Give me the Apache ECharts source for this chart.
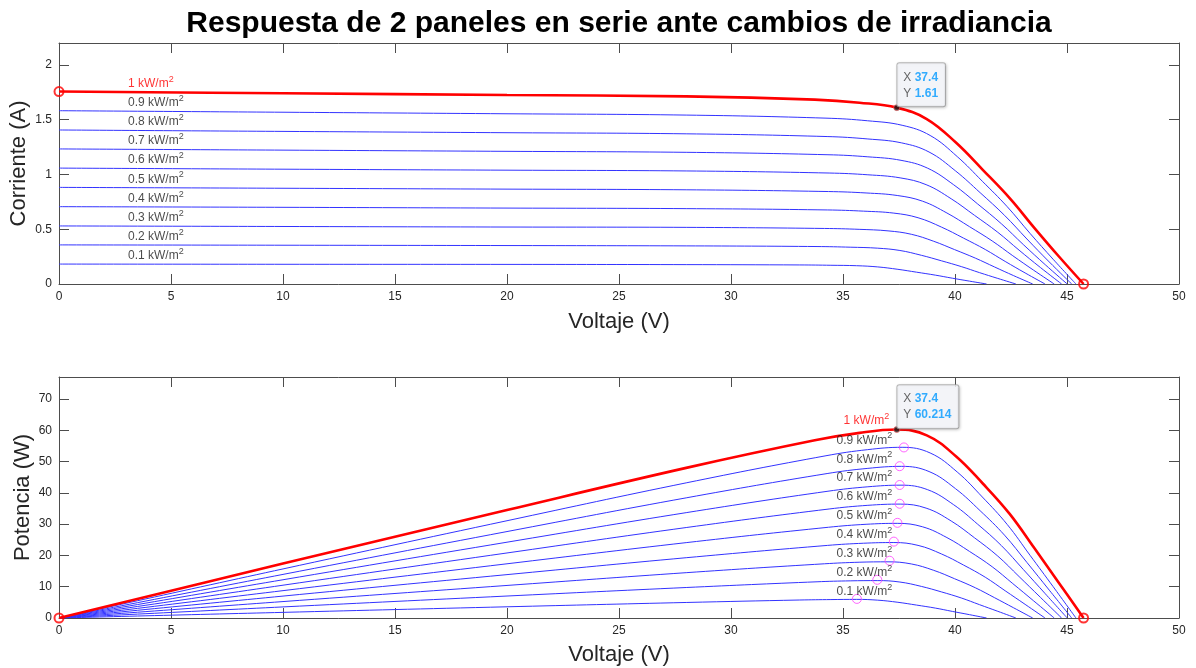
<!DOCTYPE html>
<html>
<head>
<meta charset="utf-8">
<title>Respuesta de 2 paneles en serie</title>
<script src="https://cdn.jsdelivr.net/npm/echarts@6.0.0/dist/echarts.min.js"></script>
<style>
  html, body { margin: 0; padding: 0; background: #fff; }
  #chart { width: 1196px; height: 668px; }
</style>
</head>
<body>
<div id="chart"></div>
<script>
// Irradiancias en kW/m2 (la primera es la curva roja)
var irradiancias = ['1', '0.9', '0.8', '0.7', '0.6', '0.5', '0.4', '0.3', '0.2', '0.1'];

// Voltaje (V) de cada curva
var voltaje = [
  [0, 10, 20, 28, 33.74, 35.74, 37.40, 38.74, 40.04, 41.24, 42.44, 43.54, 44.64, 45.74],
  [0, 10, 20, 28, 34.24, 36.10, 37.64, 38.89, 40.10, 41.22, 42.33, 43.35, 44.38, 45.40],
  [0, 10, 20, 28, 34.29, 36.11, 37.62, 38.84, 40.02, 41.12, 42.21, 43.21, 44.21, 45.21],
  [0, 10, 20, 28, 34.33, 36.11, 37.59, 38.78, 39.94, 41.01, 42.07, 43.05, 44.03, 45.01],
  [0, 10, 20, 28, 34.38, 36.11, 37.55, 38.71, 39.83, 40.87, 41.91, 42.86, 43.81, 44.76],
  [0, 10, 20, 28, 34.35, 36.03, 37.42, 38.55, 39.64, 40.65, 41.66, 42.58, 43.51, 44.43],
  [0, 10, 20, 28, 34.30, 35.92, 37.27, 38.35, 39.40, 40.38, 41.35, 42.24, 43.13, 44.02],
  [0, 10, 20, 28, 34.17, 35.72, 37.01, 38.05, 39.05, 39.98, 40.91, 41.77, 42.62, 43.47],
  [0, 10, 20, 28, 33.84, 35.32, 36.55, 37.54, 38.50, 39.39, 40.28, 41.09, 41.91, 42.72],
  [0, 10, 20, 28, 33.07, 34.46, 35.61, 36.55, 37.45, 38.28, 39.12, 39.88, 40.65, 41.41]
];

// Corriente (A) en esos voltajes
var corriente = [
  [1.757, 1.741, 1.725, 1.713, 1.683, 1.655, 1.610, 1.506, 1.291, 1.042, 0.784, 0.513, 0.251, 0],
  [1.582, 1.568, 1.554, 1.542, 1.514, 1.490, 1.449, 1.356, 1.163, 0.938, 0.706, 0.462, 0.226, 0],
  [1.406, 1.393, 1.381, 1.371, 1.346, 1.324, 1.288, 1.205, 1.033, 0.834, 0.627, 0.411, 0.201, 0],
  [1.233, 1.222, 1.211, 1.202, 1.180, 1.161, 1.129, 1.057, 0.906, 0.731, 0.550, 0.360, 0.176, 0],
  [1.058, 1.048, 1.039, 1.032, 1.013, 0.997, 0.969, 0.907, 0.778, 0.627, 0.472, 0.309, 0.151, 0],
  [0.882, 0.874, 0.866, 0.860, 0.844, 0.831, 0.808, 0.756, 0.648, 0.523, 0.393, 0.258, 0.126, 0],
  [0.706, 0.700, 0.693, 0.688, 0.676, 0.665, 0.647, 0.605, 0.519, 0.419, 0.315, 0.206, 0.101, 0],
  [0.530, 0.525, 0.520, 0.517, 0.507, 0.499, 0.485, 0.454, 0.390, 0.314, 0.236, 0.155, 0.076, 0],
  [0.357, 0.354, 0.351, 0.348, 0.342, 0.336, 0.327, 0.306, 0.262, 0.212, 0.159, 0.104, 0.051, 0],
  [0.182, 0.180, 0.179, 0.177, 0.174, 0.171, 0.167, 0.156, 0.134, 0.108, 0.081, 0.053, 0.026, 0]
];

// Potencia (W) en esos voltajes
var potencia = [
  [0, 17.41, 34.50, 47.96, 56.78, 59.15, 60.21, 58.34, 51.69, 42.97, 33.27, 22.34, 11.20, 0],
  [0, 15.68, 31.08, 43.18, 51.84, 53.79, 54.54, 52.73, 46.64, 38.66, 29.89, 20.03, 10.03, 0],
  [0, 13.93, 27.62, 38.39, 46.15, 47.81, 48.45, 46.80, 41.34, 34.29, 26.47, 17.76, 8.89, 0],
  [0, 12.22, 24.22, 33.66, 40.51, 41.92, 42.44, 40.99, 36.19, 29.98, 23.14, 15.50, 7.75, 0],
  [0, 10.48, 20.78, 28.90, 34.83, 36.00, 36.39, 35.11, 30.99, 25.63, 19.78, 13.24, 6.62, 0],
  [0, 8.74, 17.32, 24.08, 28.99, 29.94, 30.24, 29.14, 25.69, 21.26, 16.37, 10.99, 5.48, 0],
  [0, 7.00, 13.86, 19.26, 23.19, 23.89, 24.11, 23.20, 20.45, 16.92, 13.03, 8.70, 4.36, 0],
  [0, 5.25, 10.40, 14.48, 17.32, 17.82, 17.95, 17.27, 15.23, 12.55, 9.65, 6.47, 3.24, 0],
  [0, 3.54, 7.02, 9.74, 11.57, 11.87, 11.95, 11.49, 10.09, 8.35, 6.40, 4.27, 2.14, 0],
  [0, 1.80, 3.58, 4.96, 5.75, 5.89, 5.95, 5.70, 5.02, 4.13, 3.17, 2.11, 1.06, 0]
];

// Puntos de maxima potencia (circulos magenta) de 0.9 a 0.1 kW/m2
var mppVoltaje = [37.72, 37.53, 37.53, 37.53, 37.43, 37.27, 37.08, 36.53, 35.62];
var mppPotencia = [54.5, 48.5, 42.5, 36.5, 30.4, 24.4, 18.3, 12.2, 6.1];

// Datatips de la curva de 1 kW/m2
var tipCorriente = [37.4, 1.61];
var tipPotencia = [37.4, 60.214];

// Marcas de los ejes
var ticksVoltaje = [0, 5, 10, 15, 20, 25, 30, 35, 40, 45, 50];
var ticksCorriente = [0, 0.5, 1, 1.5, 2];
var ticksPotencia = [0, 10, 20, 30, 40, 50, 60, 70];

var fuente = "'Liberation Sans', Arial, Helvetica, sans-serif";
var colorEje = '#4d4d4d';
var colorTexto = '#262626';
var azul = '#3333ff';

var chart = echarts.init(document.getElementById('chart'), null, { renderer: 'canvas' });

// eje generico estilo MATLAB (caja con ticks hacia dentro)
function eje(grid, pos, min, max, ticks, conTexto, nombre, gap) {
  return {
    type: 'value',
    gridIndex: grid,
    position: pos,
    min: min,
    max: max,
    name: conTexto ? nombre : '',
    nameLocation: 'middle',
    nameGap: gap,
    nameMoveOverlap: false,
    nameTextStyle: { fontSize: 22, color: colorTexto, fontFamily: fuente },
    axisLine: { show: true, onZero: false, lineStyle: { color: colorEje, width: 1 } },
    axisTick: { show: true, inside: true, length: 10, customValues: ticks, lineStyle: { color: colorEje } },
    axisLabel: { show: conTexto, customValues: ticks, color: colorTexto, fontSize: 12, margin: 7, fontFamily: fuente },
    splitLine: { show: false }
  };
}

var supRich = {
  t: { fontSize: 12, lineHeight: 18, color: '#1a1a1a', fontFamily: fuente },
  s: { fontSize: 9, lineHeight: 10, verticalAlign: 'top', color: '#1a1a1a', fontFamily: fuente },
  tr: { fontSize: 12, lineHeight: 18, color: '#ff0000', fontFamily: fuente },
  sr: { fontSize: 9, lineHeight: 10, verticalAlign: 'top', color: '#ff0000', fontFamily: fuente }
};

function textoIrr(i) {
  if (i === 0) return '{tr|' + irradiancias[i] + ' kW/m}{sr|2}';
  return '{t|' + irradiancias[i] + ' kW/m}{s|2}';
}

var series = [];

// curvas (primero las azules, la roja encima)
for (var i = irradiancias.length - 1; i >= 0; i--) {
  var ivData = voltaje[i].map(function (v, k) { return [v, corriente[this][k]]; }, i);
  var pvData = voltaje[i].map(function (v, k) { return [v, potencia[this][k]]; }, i);
  var estilo = i === 0 ? { color: '#ff0000', width: 2.6 } : { color: azul, width: 1 };
  series.push({
    type: 'line', xAxisIndex: 0, yAxisIndex: 0, data: ivData,
    showSymbol: false, smooth: 0.4,
    lineStyle: estilo, z: i === 0 ? 5 : 3, silent: true
  });
  series.push({
    type: 'line', xAxisIndex: 2, yAxisIndex: 2, data: pvData,
    showSymbol: false, smooth: 0.4,
    lineStyle: estilo, z: i === 0 ? 5 : 3, silent: true
  });
}

var ultimo = voltaje[0].length - 1;

// circulos rojos en Isc y Voc
series.push({
  type: 'scatter', xAxisIndex: 0, yAxisIndex: 0, clip: false, z: 6,
  symbol: 'circle', symbolSize: 9,
  itemStyle: { color: 'rgba(255,255,255,0)', borderColor: '#ff0000', borderWidth: 2 },
  data: [[voltaje[0][0], corriente[0][0]], [voltaje[0][ultimo], corriente[0][ultimo]]]
});
series.push({
  type: 'scatter', xAxisIndex: 2, yAxisIndex: 2, clip: false, z: 6,
  symbol: 'circle', symbolSize: 9,
  itemStyle: { color: 'rgba(255,255,255,0)', borderColor: '#ff0000', borderWidth: 2 },
  data: [[voltaje[0][0], potencia[0][0]], [voltaje[0][ultimo], potencia[0][ultimo]]]
});

// circulos magenta de maxima potencia
series.push({
  type: 'scatter', xAxisIndex: 2, yAxisIndex: 2, clip: false, z: 6,
  symbol: 'circle', symbolSize: 9,
  itemStyle: { color: 'rgba(255,255,255,0)', borderColor: '#ff40ff', borderWidth: 1 },
  data: mppVoltaje.map(function (v, k) { return [v, mppPotencia[k]]; })
});

// etiquetas del grafico de corriente
series.push({
  type: 'scatter', xAxisIndex: 0, yAxisIndex: 0, symbolSize: 0, silent: true, z: 7,
  data: irradiancias.map(function (g, k) {
    return {
      value: [3.08, corriente[k][0]],
      label: {
        show: true, position: [0, 0], align: 'left', verticalAlign: 'middle',
        offset: [0, -8], formatter: textoIrr(k), rich: supRich
      }
    };
  })
});

// etiquetas del grafico de potencia
series.push({
  type: 'scatter', xAxisIndex: 2, yAxisIndex: 2, symbolSize: 0, silent: true, z: 7,
  data: irradiancias.map(function (g, k) {
    var p = k === 0 ? tipPotencia[1] : mppPotencia[k - 1];
    return {
      value: [37.2, p],
      label: {
        show: true, position: [0, 0], align: 'right', verticalAlign: 'middle',
        offset: [k === 0 ? -3 : 0, k === 0 ? -9 : -7], formatter: textoIrr(k), rich: supRich
      }
    };
  })
});

// datatips
function datatip(xi, yi, punto) {
  return {
    type: 'scatter', xAxisIndex: xi, yAxisIndex: yi, clip: false, z: 8,
    symbol: 'circle', symbolSize: 6,
    itemStyle: { color: '#1a1a1a', borderColor: '#ff6666', borderWidth: 0.8 },
    data: [{
      value: punto,
      label: {
        show: true, position: [4, 2], align: 'left', verticalAlign: 'bottom',
        formatter: '{k|X} {v|' + punto[0] + '}\n{k|Y} {v|' + punto[1] + '}',
        backgroundColor: '#f9faff', borderColor: '#a9a9a9', borderWidth: 1, borderRadius: 2,
        padding: [6, 7, 5, 6],
        shadowBlur: 3, shadowColor: 'rgba(0,0,0,0.18)', shadowOffsetX: 1, shadowOffsetY: 1,
        rich: {
          k: { fontSize: 12, lineHeight: 16, color: '#404040', fontFamily: fuente },
          v: { fontSize: 12, lineHeight: 16, color: '#0099ff', fontWeight: 'bold', fontFamily: fuente }
        }
      }
    }]
  };
}
series.push(datatip(0, 0, tipCorriente));
series.push(datatip(2, 2, tipPotencia));

var option = {
  animation: false,
  backgroundColor: '#ffffff',
  textStyle: { fontFamily: fuente },
  title: {
    text: 'Respuesta de 2 paneles en serie ante cambios de irradiancia',
    left: 619, top: 9, padding: 0, textAlign: 'center',
    textStyle: { fontSize: 30, fontWeight: 'bold', color: '#000000', fontFamily: fuente }
  },
  grid: [
    { left: 59, top: 43, width: 1120, height: 241, outerBoundsMode: 'none', containLabel: false },
    { left: 59, top: 377, width: 1120, height: 241, outerBoundsMode: 'none', containLabel: false }
  ],
  xAxis: [
    eje(0, 'bottom', 0, 50, ticksVoltaje, true, 'Voltaje (V)', 27),
    eje(0, 'top', 0, 50, ticksVoltaje, false, '', 0),
    eje(1, 'bottom', 0, 50, ticksVoltaje, true, 'Voltaje (V)', 26),
    eje(1, 'top', 0, 50, ticksVoltaje, false, '', 0)
  ],
  yAxis: [
    eje(0, 'left', 0, 2.2, ticksCorriente, true, 'Corriente (A)', 29),
    eje(0, 'right', 0, 2.2, ticksCorriente, false, '', 0),
    eje(1, 'left', 0, 77, ticksPotencia, true, 'Potencia (W)', 25),
    eje(1, 'right', 0, 77, ticksPotencia, false, '', 0)
  ],
  series: series
};

chart.setOption(option);
</script>
</body>
</html>
